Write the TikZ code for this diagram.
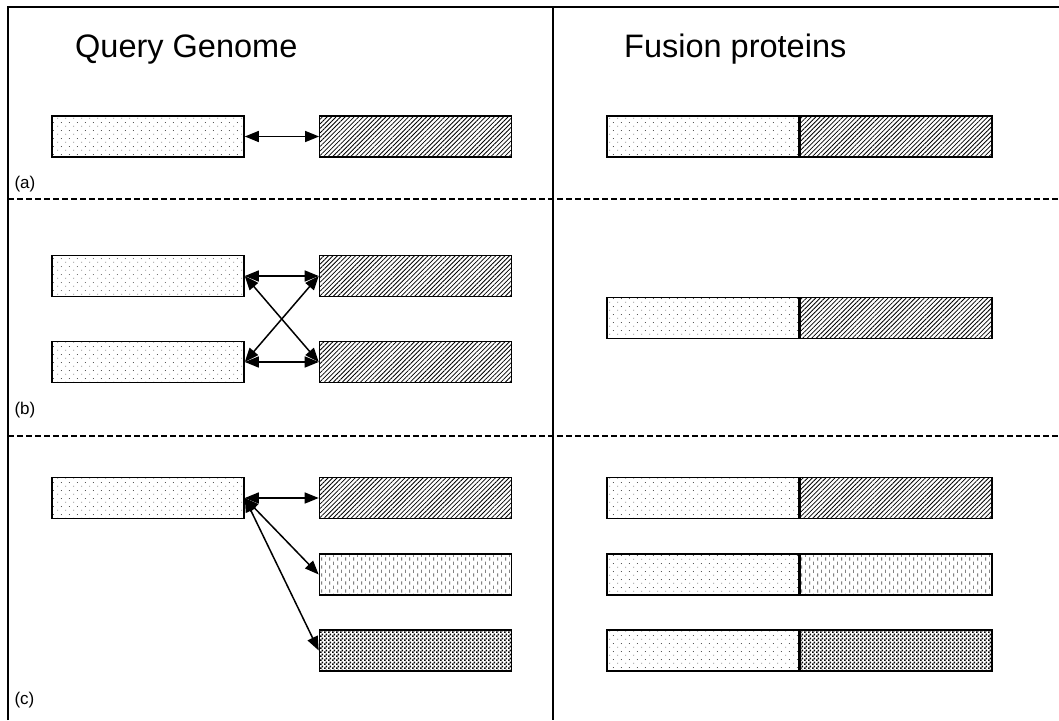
\documentclass[tikz,border=0pt]{standalone}
\usepackage{fontspec}
\setmainfont{Liberation Sans}
\usetikzlibrary{patterns.meta,arrows.meta}

% fill patterns for the protein domains
\tikzdeclarepattern{
  name=finedots, type=uncolored,
  bounding box={(0,0) and (8pt,8pt)},
  tile size={(8pt,8pt)},
  code={\fill (2pt,2pt) circle (0.5pt); \fill (6pt,6pt) circle (0.5pt);}
}
\tikzdeclarepattern{
  name=vdashes, type=uncolored,
  bounding box={(0,0) and (8pt,8pt)},
  tile size={(8pt,8pt)},
  code={\fill (1.6pt,0.5pt) rectangle (2.4pt,4pt);
        \fill (5.6pt,4.5pt) rectangle (6.4pt,8pt);}
}
\tikzdeclarepattern{
  name=densedots, type=uncolored,
  bounding box={(0,0) and (4pt,4pt)},
  tile size={(4pt,4pt)},
  code={\fill (0pt,0pt) rectangle (2pt,2pt);
        \fill (2pt,2pt) rectangle (4pt,4pt);}
}

\tikzset{
  protbox/.style={draw, line width=1.6pt, minimum width=192pt, minimum height=41pt, inner sep=0pt},
  dotted box/.style={protbox, pattern=finedots, pattern color=black!80},
  hatched box/.style={protbox, pattern={Lines[angle=45,distance=3.2pt,line width=0.8pt]}},
  dashed box/.style={protbox, pattern=vdashes, pattern color=black!75},
  dense box/.style={protbox, pattern=densedots, pattern color=black},
  link/.style={line width=1.5pt, {Triangle[length=14pt,width=11pt]}-{Triangle[length=14pt,width=11pt]}},
  frame/.style={line width=1.8pt},
  divider/.style={line width=1.4pt, dash pattern=on 6pt off 3pt},
  heading/.style={font=\fontsize{32.5}{34}\selectfont, anchor=base west, inner sep=0pt},
  tag/.style={font=\fontsize{17}{19}\selectfont, anchor=west}
}

\begin{document}
\begin{tikzpicture}[x=1pt,y=-1pt]
\useasboundingbox (0,0) rectangle (1059,720);

% frame and column divider
\draw[frame] (8,720) -- (8,7) -- (1059,7);
\draw[frame] (553,7) -- (553,720);
\draw[divider] (8,199) -- (1059,199);
\draw[divider] (8,436) -- (1059,436);

% headings
\node[heading] (hq) at (75,57) {Query Genome};
\node[heading] (hf) at (624,57) {Fusion proteins};

% (a)
\node[dotted box] (a1) at (148,136.5) {};
\node[hatched box] (a2) at (415.5,136.5) {};
\draw[link] (a1.east) -- (a2.west);
\node[dotted box] (fa1) at (703,136.5) {};
\node[hatched box] (fa2) at (896,136.5) {};
\node[tag] (la) at (11,184) {(a)};

% (b)
\node[dotted box] (b1) at (148,276) {};
\node[hatched box] (b2) at (415.5,276) {};
\node[dotted box] (b3) at (148,362) {};
\node[hatched box] (b4) at (415.5,362) {};
\draw[link] (b1.east) -- (b2.west);
\draw[link] (b3.east) -- (b4.west);
\draw[link] (b1.east) -- (b4.west);
\draw[link] (b3.east) -- (b2.west);
\node[dotted box] (fb1) at (703,318) {};
\node[hatched box] (fb2) at (896,318) {};
\node[tag] (lb) at (11,410) {(b)};

% (c)
\node[dotted box] (c1) at (148,498) {};
\node[hatched box] (c2) at (415.5,498) {};
\node[dashed box] (c3) at (415.5,574.5) {};
\node[dense box] (c4) at (415.5,650.5) {};
\draw[link] (c1.east) -- (c2.west);
\draw[link] (c1.east) -- (c3.west);
\draw[link] (c1.east) -- (c4.west);
\node[dotted box] (fc1) at (703,498) {};
\node[hatched box] (fc2) at (896,498) {};
\node[dotted box] (fc3) at (703,574.5) {};
\node[dashed box] (fc4) at (896,574.5) {};
\node[dotted box] (fc5) at (703,650.5) {};
\node[dense box] (fc6) at (896,650.5) {};
\node[tag] (lc) at (11,700) {(c)};
\end{tikzpicture}
\end{document}
